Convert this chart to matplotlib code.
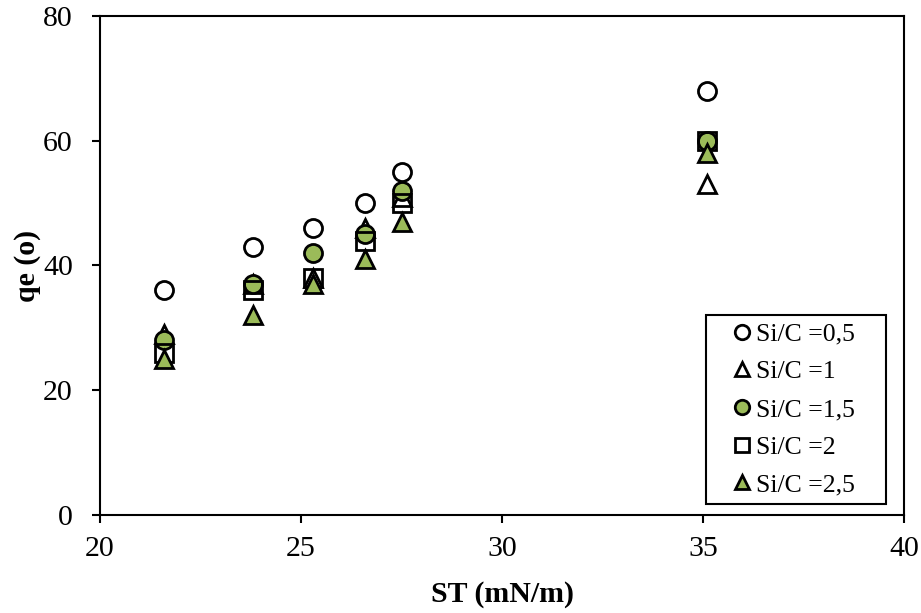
import matplotlib
matplotlib.use("Agg")
import matplotlib.pyplot as plt

st = [21.6, 23.8, 25.3, 26.6, 27.5, 35.1]
labels = ["Si/C =0,5", "Si/C =1", "Si/C =1,5", "Si/C =2", "Si/C =2,5"]
q_05 = [36, 43, 46, 50, 55, 68]
q_1 = [29, 37, 38, 46, 51, 53]
q_15 = [28, 37, 42, 45, 52, 60]
q_2 = [26, 36, 38, 44, 50, 60]
q_25 = [25, 32, 37, 41, 47, 58]

green = "#9BBB59"
plt.rcParams['font.family'] = ['Liberation Serif', 'DejaVu Serif']

fig = plt.figure(figsize=(9.21, 6.13), dpi=100)
ax = fig.add_axes([0.1086, 0.160, 0.873, 0.8139])

ms = 13
mew = 2.0
ax.plot(st, q_05, ls='none', marker='o', ms=ms, mfc='white', mec='black', mew=mew, label=labels[0], zorder=3)
ax.plot(st, q_1, ls='none', marker='^', ms=ms, mfc='white', mec='black', mew=mew, label=labels[1], zorder=3)
ax.plot(st, q_15, ls='none', marker='o', ms=ms, mfc=green, mec='black', mew=mew, label=labels[2], zorder=3)
ax.plot(st, q_2, ls='none', marker='s', ms=ms - 0.5, mfc='none', mec='black', mew=mew, label=labels[3], zorder=3)
ax.plot(st, q_25, ls='none', marker='^', ms=ms, mfc=green, mec='black', mew=mew, label=labels[4], zorder=3)

ax.set_xlim(20, 40)
ax.set_ylim(0, 80)
ax.set_xticks([20, 25, 30, 35, 40])
ax.set_yticks([0, 20, 40, 60, 80])
ax.tick_params(axis='both', direction='out', length=6, width=1.5, labelsize=21.5, top=False, right=False)
ax.tick_params(axis='y', pad=13.5)
ax.tick_params(axis='x', pad=9)
for s in ax.spines.values():
    s.set_linewidth(1.5)

ax.set_xlabel("ST (mN/m)", fontsize=21.5, fontweight='bold')
ax.set_ylabel("qe (o)", fontsize=21.5, fontweight='bold')
ax.xaxis.set_label_coords(0.5, -0.132)
ax.yaxis.set_label_coords(-0.074, 0.5)

leg = ax.legend(loc='lower left', bbox_to_anchor=(0.7537, 0.022, 0.2239, 0.38),
                mode='expand', fontsize=18.5, frameon=True, fancybox=False,
                edgecolor='black', handletextpad=-0.55, handlelength=2.2,
                borderaxespad=0.0, labelspacing=0.57, markerscale=0.8,
                borderpad=0.3, framealpha=1)
leg.get_frame().set_linewidth(1.5)

fig.savefig("out.png", dpi=100)
